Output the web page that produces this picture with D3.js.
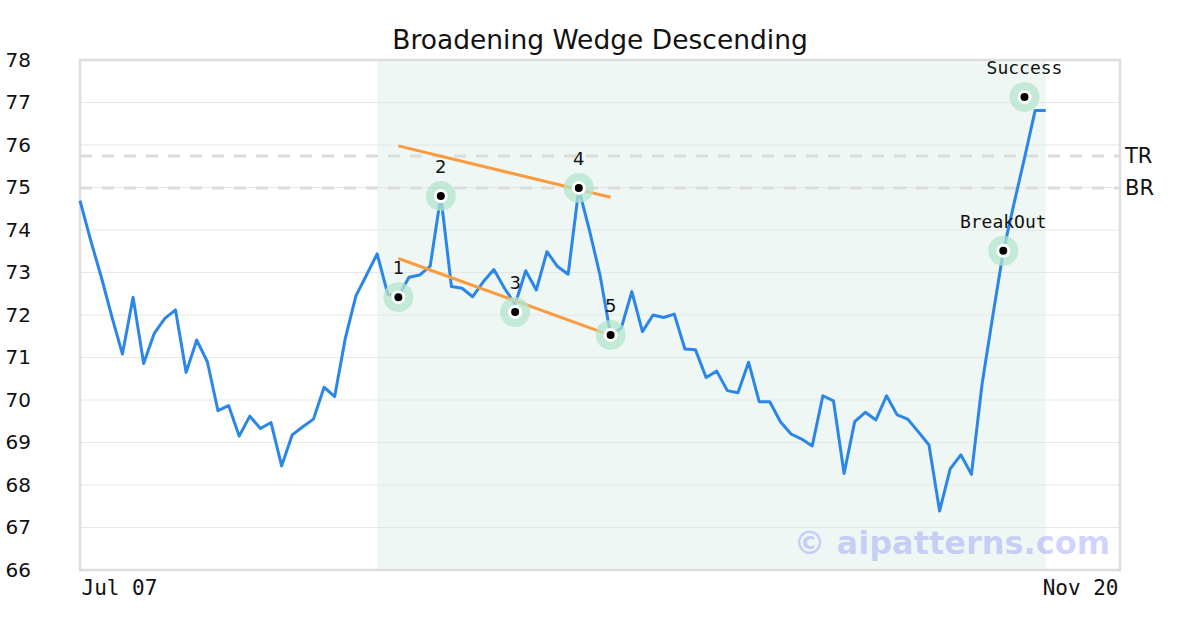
<!DOCTYPE html>
<html><head><meta charset="utf-8">
<script src="https://cdn.jsdelivr.net/npm/d3@7/dist/d3.min.js"></script>
<style>body{margin:0;background:#fff}</style>
</head><body>
<svg id="chart" width="1200" height="630"></svg>
<script>
const title = "Broadening Wedge Descending";
const prices = [74.69,73.76,72.90,71.96,71.08,72.42,70.86,71.57,71.92,72.12,
70.65,71.41,70.90,69.75,69.87,69.15,69.62,69.33,69.47,68.45,
69.18,69.37,69.55,70.30,70.08,71.45,72.45,72.94,73.44,72.49,
72.43,72.89,72.94,73.15,74.80,72.67,72.63,72.43,72.78,73.07,
72.63,72.25,73.04,72.59,73.49,73.14,72.96,74.96,74.00,72.94,
71.53,71.69,72.55,71.61,72.00,71.94,72.02,71.20,71.18,70.53,
70.68,70.22,70.17,70.89,69.96,69.96,69.49,69.20,69.08,68.92,
70.10,69.98,68.27,69.49,69.71,69.53,70.10,69.65,69.55,69.25,
68.94,67.39,68.38,68.71,68.25,70.37,71.96,73.49,74.61,75.69,
76.81,76.81];
const xDomain = [0, 98];
const xTickLabels = ["Jul 07", "Nov 20"];
const yTicks = [66,67,68,69,70,71,72,73,74,75,76,77,78];
const shadeRange = [28, 91];
const markerIdx = [30, 34, 41, 47, 50, 87, 89];
const markerVal = [72.42, 74.80, 72.07, 74.99, 71.53, 73.51, 77.13];
const markerLbl = ["1","2","3","4","5","BreakOut","Success"];
const upperTrend = [[30, 75.98],[50, 74.77]];
const lowerTrend = [[30, 73.33],[50, 71.52]];
const levelNames = ["TR","BR"];
const levelVals = [75.74, 74.99];
const watermark = "© aipatterns.com";

const svg = d3.select("#chart");
const L=80,R=1120,T=60,B=570;
const x = d3.scaleLinear().domain(xDomain).range([L,R]);
const y = d3.scaleLinear().domain([66,78]).range([B,T]);

// shading
svg.append("rect").attr("x",x(shadeRange[0])).attr("y",T)
  .attr("width",x(shadeRange[1])-x(shadeRange[0])).attr("height",B-T)
  .attr("fill","#eff7f4");

// grid
svg.append("g").selectAll("line").data(yTicks).join("line")
  .attr("x1",L).attr("x2",R).attr("y1",d=>y(d)).attr("y2",d=>y(d))
  .attr("stroke","#e6e6e6").attr("stroke-width",1);

// y labels
const yAxis = d3.axisLeft(y).tickValues(yTicks).tickSize(0).tickPadding(0).tickFormat(d3.format("d"));
const ya = svg.append("g").attr("transform","translate(31,0)").call(yAxis);
ya.select(".domain").remove();
ya.selectAll("text").attr("font-family","DejaVu Sans").attr("font-size",20).attr("fill","#111");

// x labels
const xa = svg.append("g").attr("transform",`translate(0,${B})`)
  .call(d3.axisBottom(x).tickValues(xDomain).tickSize(0).tickPadding(7).tickFormat((d,i)=>xTickLabels[i]));
xa.select(".domain").remove();
xa.selectAll("text").attr("font-family","DejaVu Sans Mono").attr("font-size",21).attr("fill","#111")
  .attr("dy","0.85em")
  .attr("x",(d,i)=>i===0?1:-2)
  .attr("text-anchor",(d,i)=>i===0?"start":"end");

// level lines
levelVals.forEach((v,i)=>{
  svg.append("line").attr("x1",L).attr("x2",R).attr("y1",y(v)).attr("y2",y(v))
    .attr("stroke","#dcdcdc").attr("stroke-width",3).attr("stroke-dasharray","12,10");
  svg.append("text").attr("x",R+5).attr("y",y(v)).attr("dy","0.35em")
    .attr("font-family","DejaVu Sans").attr("font-size",21).attr("fill","#111").text(levelNames[i]);
});

// watermark
svg.append("text").attr("x",1110).attr("y",554).attr("text-anchor","end")
  .attr("font-family","DejaVu Sans").attr("font-weight","bold").attr("font-size",32)
  .attr("fill","rgb(120,130,250)").attr("fill-opacity",0.35).text(watermark);

// frame
svg.append("rect").attr("x",L).attr("y",T).attr("width",R-L).attr("height",B-T)
  .attr("fill","none").attr("stroke","#dddddd").attr("stroke-width",2.5);

// price line
svg.append("path").datum(prices)
  .attr("d",d3.line().x((d,i)=>x(i)).y(d=>y(d)))
  .attr("fill","none").attr("stroke","#2a86e8").attr("stroke-width",3).attr("stroke-linejoin","round");

// trend lines
[upperTrend, lowerTrend].forEach(t=>{
  svg.append("line").attr("x1",x(t[0][0])).attr("y1",y(t[0][1]))
    .attr("x2",x(t[1][0])).attr("y2",y(t[1][1]))
    .attr("stroke","#f99b3e").attr("stroke-width",3);
});

// markers
markerIdx.forEach((mi,k)=>{
  const cx=x(mi), cy=y(markerVal[k]);
  svg.append("circle").attr("cx",cx).attr("cy",cy).attr("r",15).attr("fill","#b3e6cd").attr("fill-opacity",0.75);
  svg.append("circle").attr("cx",cx).attr("cy",cy).attr("r",7).attr("fill","#fff");
  svg.append("circle").attr("cx",cx).attr("cy",cy).attr("r",4).attr("fill","#000");
  const isWord = markerLbl[k].length>1;
  svg.append("text").attr("x",cx).attr("y",cy-23).attr("text-anchor","middle")
    .attr("font-family",isWord?"DejaVu Sans Mono":"DejaVu Sans").attr("font-size",18)
    .attr("fill","#111").text(markerLbl[k]);
});

// title
svg.append("text").attr("x",600).attr("y",49).attr("text-anchor","middle")
  .attr("font-family","DejaVu Sans").attr("font-size",26.5).attr("fill","#111").text(title);
</script>
</body></html>
